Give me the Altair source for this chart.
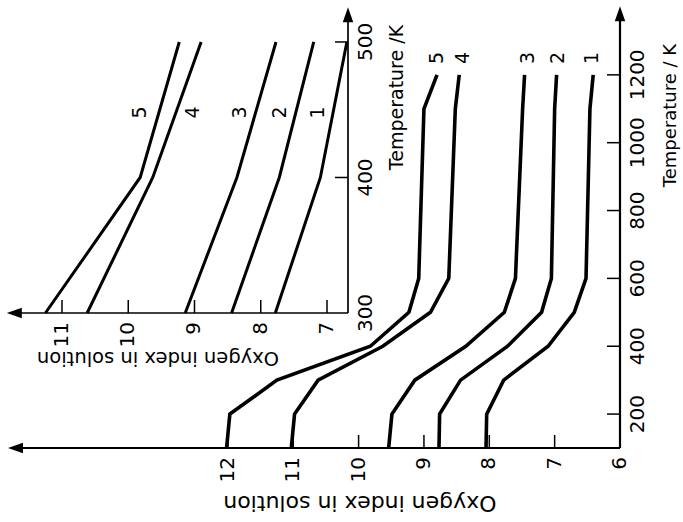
import altair as alt
import pandas as pd

# Oxygen index in solution against temperature, curves 1-5
temperature = [100, 200, 300, 400, 500, 600, 1100, 1200]
curve_1 = [8.05, 8.04, 7.78, 7.10, 6.70, 6.52, 6.46, 6.41]
curve_2 = [8.77, 8.76, 8.44, 7.72, 7.20, 7.05, 7.00, 6.97]
curve_3 = [9.54, 9.49, 9.14, 8.36, 7.77, 7.60, 7.49, 7.46]
curve_4 = [11.03, 10.98, 10.62, 9.63, 8.90, 8.62, 8.52, 8.46]
curve_5 = [12.02, 11.97, 11.25, 9.82, 9.23, 9.08, 9.00, 8.80]
curve_names = ["1", "2", "3", "4", "5"]

# main axes
oxygen_ticks = [7, 8, 9, 10, 11, 12]
oxygen_labels = [6, 7, 8, 9, 10, 11, 12]
temp_ticks = [200, 400, 600, 800, 1000, 1200]
oxygen_axis = [6, 15.25]
temp_axis = [100, 1380]
curve_label_temp = 1250
curve_label_oxygen = [6.43, 6.95, 7.41, 8.40, 8.80]

# inset: the 300-500 K range enlarged
inset_temp_span = [300, 500]
inset_oxygen_ticks = [7, 8, 9, 10, 11]
inset_temp_ticks = [400, 500]
inset_temp_labels = [300, 400, 500]
inset_oxygen_axis = [6.683, 11.72]
inset_temp_axis = [300, 520]
inset_label_temp = 448
inset_label_oxygen = [7.14, 7.71, 8.31, 9.02, 9.82]

FONT = "DejaVu Sans"
INK = "black"


def curves_frame(lo=None, hi=None):
    rows = []
    for name, values in zip(curve_names, [curve_1, curve_2, curve_3, curve_4, curve_5]):
        for t, v in zip(temperature, values):
            if lo is None or lo <= t <= hi:
                rows.append({"curve": name, "T": t, "oxygen": v})
    return pd.DataFrame(rows)


def panel(xs, ys, curves, line_w, axis_w, ox_ticks, ox_labels, ox_axis,
          t_ticks, t_labels, t_axis, lab_t, lab_ox,
          ox_title_at, ox_title_off, ox_title_size,
          t_title_at, t_title_off, t_title_size,
          tick_font, curve_font):
    X = lambda f: alt.X(f, type="quantitative", scale=xs, axis=None)
    Y = lambda f: alt.Y(f, type="quantitative", scale=ys, axis=None)
    ox0, t0 = ox_axis[0], t_axis[0]

    lines = alt.Chart(curves).mark_line(color=INK, strokeWidth=line_w, strokeJoin="miter").encode(
        x=X("oxygen"), y=Y("T"), detail="curve:N", order="T:Q")

    axes_df = pd.DataFrame({"x": [ox0, ox0], "x2": [ox_axis[1], ox0],
                            "y": [t0, t0], "y2": [t0, t_axis[1]]})
    axes = alt.Chart(axes_df).mark_rule(color=INK, strokeWidth=axis_w).encode(
        x=X("x"), x2="x2:Q", y=Y("y"), y2="y2:Q")

    oxt = alt.Chart(pd.DataFrame({"v": ox_ticks, "b": t0})).mark_rule(
        color=INK, strokeWidth=1.5, y2Offset=-13).encode(x=X("v"), y=Y("b"), y2="b:Q")
    tt = alt.Chart(pd.DataFrame({"v": t_ticks, "b": ox0})).mark_rule(
        color=INK, strokeWidth=1.5, x2Offset=-13).encode(y=Y("v"), x=X("b"), x2="b:Q")

    oxl = alt.Chart(pd.DataFrame({"v": ox_labels, "b": t0})).mark_text(
        angle=270, align="right", baseline="middle", yOffset=9,
        font=FONT, fontSize=tick_font, color=INK).encode(x=X("v"), y=Y("b"), text="v:Q")
    tl = alt.Chart(pd.DataFrame({"v": t_labels, "b": ox0})).mark_text(
        angle=270, align="center", baseline="top", xOffset=8,
        font=FONT, fontSize=tick_font, color=INK).encode(y=Y("v"), x=X("b"), text="v:Q")

    up = alt.Chart(pd.DataFrame({"x": [ox0], "y": [t_axis[1]]})).mark_point(
        shape="M0,-1L0.7,1L-0.7,1Z", size=225, filled=True, color=INK, opacity=1, strokeWidth=0
    ).encode(x=X("x"), y=Y("y"))
    left = alt.Chart(pd.DataFrame({"x": [ox_axis[1]], "y": [t0]})).mark_point(
        shape="M-1,0L1,-0.7L1,0.7Z", size=225, filled=True, color=INK, opacity=1, strokeWidth=0
    ).encode(x=X("x"), y=Y("y"))

    names = alt.Chart(pd.DataFrame({"name": curve_names, "x": lab_ox, "y": lab_t})).mark_text(
        angle=270, align="center", baseline="middle", font=FONT, fontSize=curve_font, color=INK
    ).encode(x=X("x"), y=Y("y"), text="name:N")

    ox_title = alt.Chart(pd.DataFrame({"x": [ox_title_at], "y": [t0],
                                       "s": ["Oxygen index in solution"]})).mark_text(
        angle=180, align="center", baseline="middle", yOffset=ox_title_off,
        font=FONT, fontSize=ox_title_size, color=INK).encode(x=X("x"), y=Y("y"), text="s:N")
    t_title = alt.Chart(pd.DataFrame({"x": [ox0], "y": [t_title_at],
                                      "s": [t_title_text]})).mark_text(
        angle=270, align="center", baseline="middle", xOffset=t_title_off,
        font=FONT, fontSize=t_title_size, color=INK).encode(x=X("x"), y=Y("y"), text="s:N")

    return alt.layer(axes, oxt, tt, lines, up, left, oxl, tl, names, ox_title, t_title)


t_title_text = "Temperature / K"
main = panel(
    alt.Scale(domain=[6, 15.38], range=[613, 0], nice=False, zero=False),
    alt.Scale(domain=[100, 1400], range=[441, 0], nice=False, zero=False),
    curves_frame(), 3.6, 2.2,
    oxygen_ticks, oxygen_labels, oxygen_axis,
    temp_ticks, temp_ticks, temp_axis,
    curve_label_temp, curve_label_oxygen,
    9.98, 55, 22, 1080, 51, 18, 20, 19)

t_title_text = "Temperature /K"
inset = panel(
    alt.Scale(domain=[6.683, 11.83], range=[341, 0], nice=False, zero=False),
    alt.Scale(domain=[300, 525.8], range=[306, 0], nice=False, zero=False),
    curves_frame(*inset_temp_span), 3.0, 1.7,
    inset_oxygen_ticks, inset_oxygen_ticks, inset_oxygen_axis,
    inset_temp_ticks, inset_temp_labels, inset_temp_axis,
    inset_label_temp, inset_label_oxygen,
    9.55, 45, 19.5, 459, 49, 19, 20, 19)

chart = alt.layer(main, inset).resolve_scale(x="independent", y="independent").properties(
    width=613, height=441,
    autosize=alt.AutoSizeParams(type="none"),
    padding={"left": 7, "top": 7, "right": 63, "bottom": 74},
    background="white",
).configure_view(stroke=None)

chart.save("out.html", embed_options={"renderer": "svg", "actions": False})
